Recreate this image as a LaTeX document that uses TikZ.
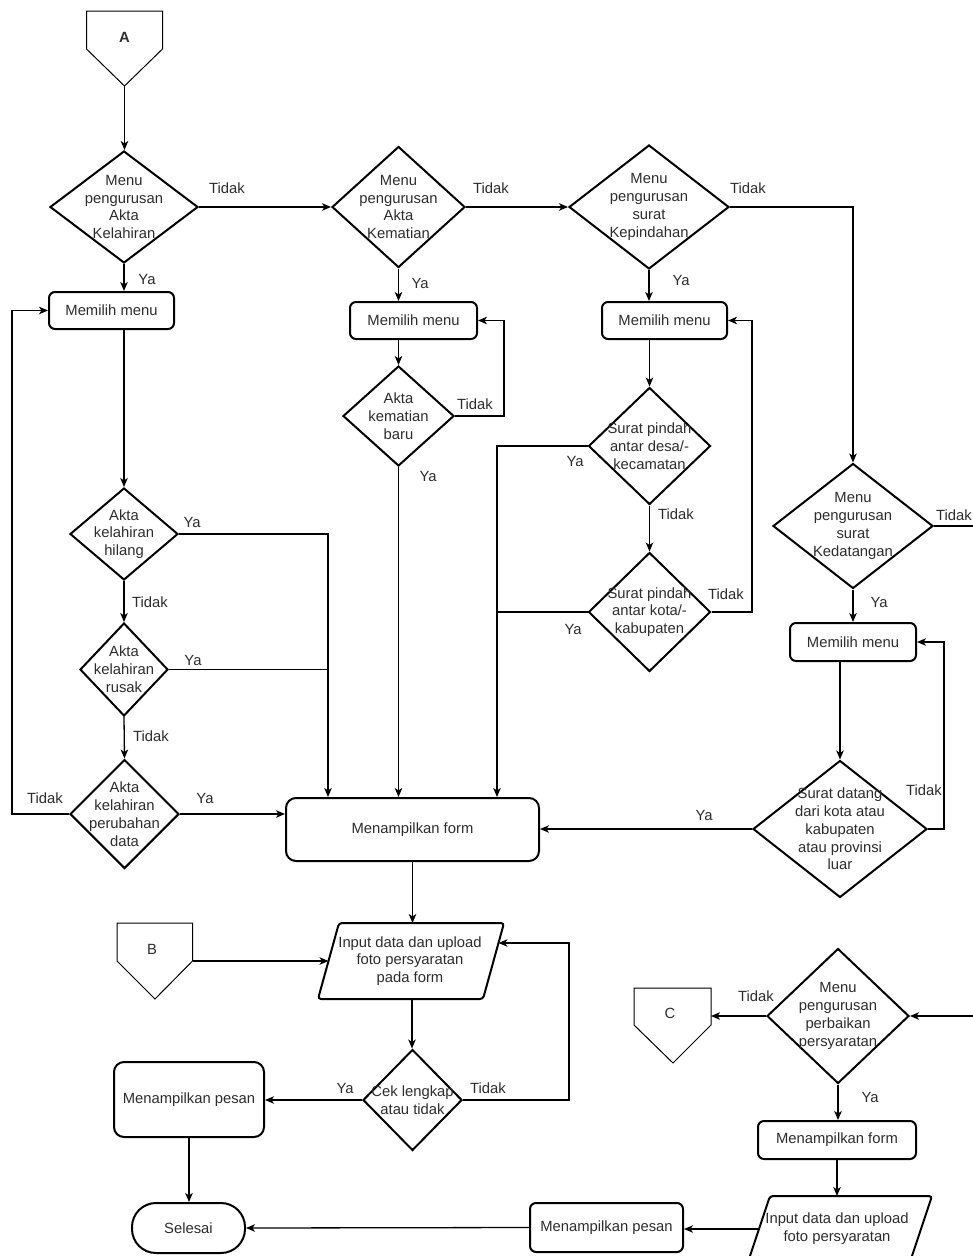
\documentclass[tikz,border=0pt]{standalone}
\usepackage{fontspec}
\setmainfont{Liberation Sans}
\usetikzlibrary{shapes.geometric,arrows.meta,calc}
\definecolor{txtc}{RGB}{45,45,45}
\begin{document}
\begin{tikzpicture}[x=1pt,y=-1pt,
  every node/.style={font=\fontsize{14.8}{17.8}\selectfont, text=txtc},
  dia/.style 2 args={draw=black, line width=2pt, diamond, minimum width=#1, minimum height=#2, inner sep=0pt},
  box/.style 2 args={draw=black, line width=2pt, rectangle, rounded corners=6, minimum width=#1, minimum height=#2, inner sep=0pt},
  bigbox/.style 2 args={box={#1}{#2}, rounded corners=10},
  term/.style 2 args={box={#1}{#2}, rounded corners=24},
  parl/.style={draw=black, line width=2pt, rounded corners=3},
  lbl/.style={align=center, inner sep=0pt},
  opc/.style={draw=black, line width=1pt},
  arr/.style={draw=black, line width=1.3pt, -{Stealth[length=9pt,width=7.5pt,inset=2.5pt]}},
  ln/.style={draw=black, line width=1.3pt},
  yn/.style={inner sep=0pt}
]
\path[fill=white, use as bounding box] (0,0) rectangle (973,1256);

% ---------- off-page connectors ----------
\draw[opc] (86.5,11) -- (162.5,11) -- (162.5,49) -- (124.5,86) -- (86.5,49) -- cycle;
\node[font=\fontsize{14.8}{17.8}\selectfont\bfseries] (A) at (124.5,37) {A};
\coordinate (Atip) at (124.5,86);

\draw[opc] (117,923) -- (192.5,923) -- (192.5,961) -- (155,999) -- (117,961) -- cycle;
\node (B) at (152,949) {B};
\coordinate (Bout) at (192.5,961);

\draw[opc] (634,988) -- (711,988) -- (711,1025) -- (673,1063) -- (634,1025) -- cycle;
\node (C) at (670,1013) {C};
\coordinate (Cin) at (711,1016);

% ---------- decisions ----------
\node[dia={148}{112}] (d1) at (124,207) {};
\node[lbl] (d1t) at (d1.center) {Menu\\pengurusan\\Akta\\Kelahiran};
\node[dia={133}{121}] (d2) at (398.5,207) {};
\node[lbl] (d2t) at (d2.center) {Menu\\pengurusan\\Akta\\Kematian};
\node[dia={160}{124}] (d3) at (649,207) {};
\node[lbl] (d3t) at (d3.center) {Menu\\pengurusan\\surat\\Kepindahan};

\node[dia={108}{92}] (dhil) at (124,534) {};
\node[lbl] (dhilt) at (dhil.center) {Akta\\kelahiran\\hilang};
\node[dia={88}{93}] (drus) at (124,669.5) {};
\node[lbl] (drust) at (drus.center) {Akta\\kelahiran\\rusak};
\node[dia={109}{109}] (dper) at (124.5,814) {};
\node[lbl] (dpert) at (dper.center) {Akta\\kelahiran\\perubahan\\data};

\node[dia={111}{100}] (dbaru) at (398.5,416) {};
\node[lbl] (dbarut) at (dbaru.center) {Akta\\kematian\\baru};

\node[dia={122}{117}] (ddesa) at (649.5,446) {};
\node[lbl] (ddesat) at (ddesa.center) {Surat pindah\\antar desa/-\\kecamatan};
\node[dia={122}{119}] (dkota) at (649.5,612) {};
\node[lbl] (dkotat) at (dkota.center) {Surat pindah\\antar kota/-\\kabupaten};

\node[dia={160}{125}] (dked) at (853,526) {};
\node[lbl] (dkedt) at (dked.center) {Menu\\pengurusan\\surat\\Kedatangan};
\node[dia={174}{137}] (ddat) at (840,829) {};
\node[lbl] (ddatt) at (ddat.center) {Surat datang\\dari kota atau\\kabupaten\\atau provinsi\\luar};

\node[dia={99}{101}] (dcek) at (412.5,1100) {};
\node[lbl] (dcekt) at (dcek.center) {Cek lengkap\\atau tidak};

\node[dia={142}{135}] (dperb) at (838,1016) {};
\node[lbl] (dperbt) at (dperb.center) {Menu\\pengurusan\\perbaikan\\persyaratan};

% ---------- processes ----------
\node[box={125}{37}] (mm1) at (111.5,310.5) {Memilih menu};
\node[box={127}{37}] (mm2) at (413.5,320.5) {Memilih menu};
\node[box={125}{37}] (mm3) at (664.5,320.5) {Memilih menu};
\node[box={126}{38}] (mm4) at (853,642) {Memilih menu};
\node[bigbox={253}{63}] (mf) at (412.5,829.5) {Menampilkan form};
\node[bigbox={150}{75}] (mp1) at (189,1099.5) {Menampilkan pesan};
\node[box={158}{38}] (mf2) at (837,1140) {Menampilkan form};
\node[box={153}{49}] (mp2) at (606.5,1227.5) {Menampilkan pesan};
\node[term={113}{50}] (sel) at (188.5,1228) {Selesai};

% ---------- inputs (parallelograms) ----------
\draw[parl] (339,923) -- (504,923) -- (483,999) -- (318,999) -- cycle;
\node[lbl] (in1t) at (410,961) {Input data dan upload\\foto persyaratan\\pada form};
\coordinate (in1n) at (412,923);
\coordinate (in1s) at (412,999);
\coordinate (in1w) at (328.5,961);
\coordinate (in1r) at (498.5,943);

\draw[parl] (770,1196) -- (932,1196) -- (910,1262) -- (748,1262) -- cycle;
\node[lbl] (in2t) at (837,1229) {Input data dan upload\\foto persyaratan};
\coordinate (in2n) at (838,1196);
\coordinate (in2w) at (759,1229);

% ---------- helper coordinates ----------
\coordinate (lx) at (12,0);
\coordinate (jA) at (328,0);
\coordinate (rx2) at (504,0);
\coordinate (jx) at (497,0);
\coordinate (rx3) at (752,0);
\coordinate (rx4) at (944,0);
\coordinate (rx5) at (569,0);
\coordinate (edgeA) at (973,526);
\coordinate (edgeB) at (973,1016);

% ---------- connectors ----------
\draw[arr] (Atip) -- (Atip |- d1.north);
\draw[arr] (d1.east) -- (d2.west);
\draw[arr] (d2.east) -- (d3.west);
\draw[arr] (d3.east) -| (dked.north);
\draw[ln] (dked.east) -- (edgeA);

\draw[arr] (d1.south) -- (d1.south |- mm1.north);
\draw[arr] (mm1.south -| dhil.north) -- (dhil.north);
\draw[arr] (dhil.south) -- (drus.north);
\draw[arr] (drus.south) -- (dper.north);
\draw[arr] (dhil.east) -| (jA |- mf.north);
\draw[ln] (drus.east) -- (drus.east -| jA);
\draw[arr] (dper.east) -- (dper.east -| mf.west);
\draw[arr] (dper.west) -- (dper.west -| lx) |- (mm1.west);

\draw[arr] (d2.south) -- (d2.south |- mm2.north);
\draw[arr] (mm2.south -| dbaru.north) -- (dbaru.north);
\draw[arr] (dbaru.east) -- (dbaru.east -| rx2) |- (mm2.east);
\draw[arr] (dbaru.south) -- (dbaru.south |- mf.north);

\draw[arr] (d3.south) -- (d3.south |- mm3.north);
\draw[arr] (mm3.south -| ddesa.north) -- (ddesa.north);
\draw[arr] (ddesa.south) -- (dkota.north);
\draw[arr] (ddesa.west) -- (ddesa.west -| jx) -- (jx |- mf.north);
\draw[ln] (dkota.west) -- (dkota.west -| jx);
\draw[arr] (dkota.east) -- (dkota.east -| rx3) |- (mm3.east);

\draw[arr] (dked.south) -- (dked.south |- mm4.north);
\draw[arr] (mm4.south -| ddat.north) -- (ddat.north);
\draw[arr] (ddat.east) -- (ddat.east -| rx4) |- (mm4.east);
\draw[arr] (ddat.west) -- (ddat.west -| mf.east);

\draw[arr] (mf.south) -- (mf.south |- in1n);
\draw[arr] (Bout) -- (in1w);
\draw[arr] (in1s) -- (in1s |- dcek.north);
\draw[arr] (dcek.east) -- (dcek.east -| rx5) |- (in1r);
\draw[arr] (dcek.west) -- (dcek.west -| mp1.east);
\draw[arr] (mp1.south) -- (mp1.south |- sel.north);

\draw[arr] (edgeB) -- (dperb.east);
\draw[arr] (dperb.west) -- (Cin);
\draw[arr] (dperb.south) -- (dperb.south |- mf2.north);
\draw[arr] (mf2.south) -- (mf2.south |- in2n);
\draw[arr] (in2w) -- (in2w -| mp2.east);
\draw[arr] (mp2.west) -- (sel.east);

% ---------- branch labels ----------
\node[yn] (l1) at (227,188) {Tidak};
\node[yn] (l2) at (147,279) {Ya};
\node[yn] (l3) at (491,188) {Tidak};
\node[yn] (l4) at (420,283) {Ya};
\node[yn] (l5) at (475,404) {Tidak};
\node[yn] (l6) at (428,476) {Ya};
\node[yn] (l7) at (748,188) {Tidak};
\node[yn] (l8) at (681,280) {Ya};
\node[yn] (l9) at (575,461) {Ya};
\node[yn] (l10) at (676,514) {Tidak};
\node[yn] (l11) at (726,594) {Tidak};
\node[yn] (l12) at (573,629) {Ya};
\node[yn, anchor=east] (l13) at (972,515) {Tidak};
\node[yn] (l14) at (879,602) {Ya};
\node[yn] (l15) at (924,790) {Tidak};
\node[yn] (l16) at (704,815) {Ya};
\node[yn] (l17) at (192,522) {Ya};
\node[yn] (l18) at (150,602) {Tidak};
\node[yn] (l19) at (193,660) {Ya};
\node[yn] (l20) at (151,736) {Tidak};
\node[yn] (l21) at (45,798) {Tidak};
\node[yn] (l22) at (205,798) {Ya};
\node[yn] (l23) at (345,1088) {Ya};
\node[yn] (l24) at (488,1088) {Tidak};
\node[yn] (l25) at (756,996) {Tidak};
\node[yn] (l26) at (870,1097) {Ya};
\end{tikzpicture}
\end{document}
